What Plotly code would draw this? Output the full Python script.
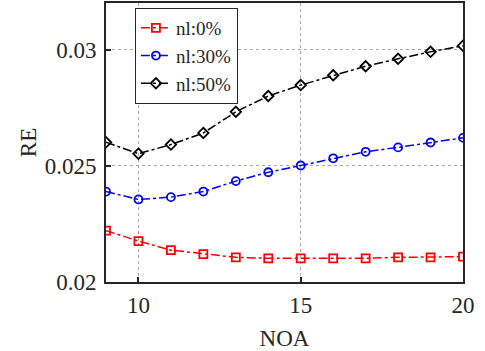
import plotly.graph_objects as go

noa = [9, 10, 11, 12, 13, 14, 15, 16, 17, 18, 19, 20]
re_nl0 = [0.02221, 0.02176, 0.02137, 0.02120, 0.02106, 0.02102, 0.02102,
          0.02102, 0.02102, 0.02106, 0.02106, 0.02109]
re_nl30 = [0.02389, 0.02355, 0.02365, 0.02389, 0.02434, 0.02472, 0.02501,
           0.02532, 0.02560, 0.02579, 0.02600, 0.02620]
re_nl50 = [0.02601, 0.02552, 0.02591, 0.02641, 0.02732, 0.02800, 0.02847,
           0.02889, 0.02928, 0.02960, 0.02990, 0.03016]
series_names = ["nl:0%", "nl:30%", "nl:50%"]
x_ticks = [10, 15, 20]
y_ticks = [0.02, 0.025, 0.03]
y_tick_labels = ["0.02", "0.025", "0.03"]

FONT = "Liberation Serif"
INK = "#262626"

styles = [
    dict(color="#ff0000", symbol="square-open"),
    dict(color="#0000ff", symbol="circle-open"),
    dict(color="#000000", symbol="diamond-open"),
]

fig = go.Figure()
for name, ys, st in zip(series_names, [re_nl0, re_nl30, re_nl50], styles):
    fig.add_trace(go.Scatter(
        x=noa, y=ys, name=name, mode="lines+markers",
        line=dict(color=st["color"], width=1.5, dash="dashdot"),
        marker=dict(symbol=st["symbol"], size=8, color=st["color"],
                    line=dict(width=1.8, color=st["color"])),
    ))

axis_common = dict(
    showline=True, linecolor=INK, linewidth=2, mirror=True,
    ticks="inside", ticklen=5, tickwidth=1.5, tickcolor=INK,
    showgrid=True, gridcolor="#a8a8a8", griddash="dot", gridwidth=1,
    zeroline=False,
    tickfont=dict(family=FONT, size=23, color=INK),
)

fig.update_xaxes(range=[9, 20], tickvals=x_ticks, ticklabelstandoff=1,
                 title=dict(text="NOA", font=dict(family=FONT, size=23, color=INK),
                            standoff=16),
                 **axis_common)
fig.update_yaxes(range=[0.02, 0.032], tickvals=y_ticks, ticktext=y_tick_labels,
                 ticklabelstandoff=3,
                 title=dict(text="RE", font=dict(family=FONT, size=23, color=INK),
                            standoff=2),
                 **axis_common)

fig.update_layout(
    width=485, height=351,
    margin=dict(l=106, r=22, t=1, b=68),
    plot_bgcolor="white", paper_bgcolor="white",
    font=dict(family=FONT, size=20, color=INK),
    legend=dict(
        x=0.081, y=0.982, xanchor="left", yanchor="top",
        bgcolor="white", bordercolor=INK, borderwidth=1,
        font=dict(family=FONT, size=19, color=INK),
        tracegroupgap=0, itemwidth=30,
    ),
    showlegend=True,
)

fig.write_html("out.html")
